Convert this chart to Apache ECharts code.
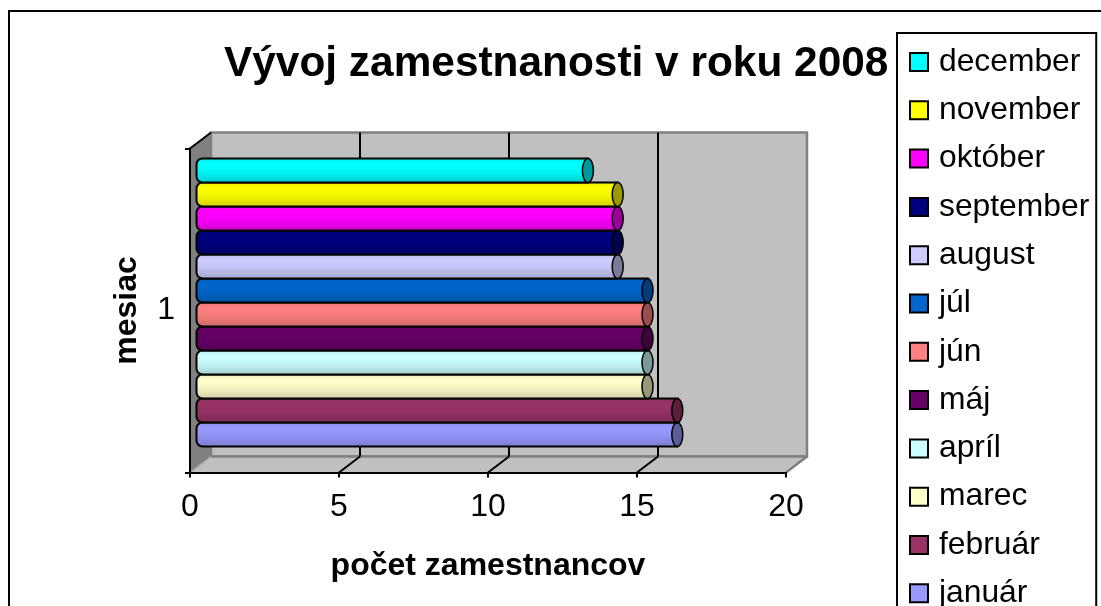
<!DOCTYPE html>
<html>
<head>
<meta charset="utf-8">
<script src="https://cdn.jsdelivr.net/npm/echarts@6/dist/echarts.min.js"></script>
<style>
html, body { margin: 0; padding: 0; background: #fff; }
#chart { width: 1101px; height: 606px; }
</style>
</head>
<body>
<div id="chart"></div>
<script>
var mesiace = ['január', 'február', 'marec', 'apríl', 'máj', 'jún', 'júl', 'august', 'september', 'október', 'november', 'december'];
var pocty = [16, 16, 15, 15, 15, 15, 15, 14, 14, 14, 14, 13];
var farby = ['#9999FF', '#993366', '#FFFFCC', '#CCFFFF', '#660066', '#FF8080', '#0066CC', '#CCCCFF', '#000080', '#FF00FF', '#FFFF00', '#00FFFF'];
var kategorie = ['1'];
var mriezka = [0, 5, 10, 15, 20];

var hlbkaX = 21, hlbkaY = 16;
var font = '"Liberation Sans", Arial, sans-serif';

function ztmav(hex, k) {
	var n = parseInt(hex.slice(1), 16);
	var r = Math.round((n >> 16 & 255) * k), g = Math.round((n >> 8 & 255) * k), b = Math.round((n & 255) * k);
	return 'rgb(' + r + ',' + g + ',' + b + ')';
}

// steny a podlaha, vsetko z osi
function renderSteny(params, api) {
	var stred = api.coord([0, '1']);
	var vyska = api.size([0, 1])[1];
	var x0 = stred[0], x1 = api.coord([20, '1'])[0];
	var hore = stred[1] - vyska / 2, dole = stred[1] + vyska / 2;
	var sivy = { stroke: '#808080', lineWidth: 2.5 };
	var deti = [
		{ type: 'polygon', shape: { points: [[x0 + hlbkaX, hore - hlbkaY], [x1 + hlbkaX, hore - hlbkaY], [x1 + hlbkaX, dole - hlbkaY], [x0 + hlbkaX, dole - hlbkaY]] }, style: { fill: '#C0C0C0', stroke: '#808080', lineWidth: 2.5 } },
		{ type: 'polygon', shape: { points: [[x0, dole], [x1, dole], [x1 + hlbkaX, dole - hlbkaY], [x0 + hlbkaX, dole - hlbkaY]] }, style: { fill: '#C0C0C0' } },
		{ type: 'line', shape: { x1: x0 + hlbkaX, y1: dole - hlbkaY, x2: x1 + hlbkaX, y2: dole - hlbkaY }, style: sivy },
		{ type: 'line', shape: { x1: x1, y1: dole, x2: x1 + hlbkaX, y2: dole - hlbkaY }, style: sivy },
		{ type: 'polygon', shape: { points: [[x0, hore], [x0 + hlbkaX, hore - hlbkaY], [x0 + hlbkaX, dole - hlbkaY], [x0, dole]] }, style: { fill: '#808080' } },
		{ type: 'line', shape: { x1: x0, y1: hore, x2: x0 + hlbkaX, y2: hore - hlbkaY }, style: { stroke: '#000', lineWidth: 2 } },
		{ type: 'line', shape: { x1: x0, y1: dole, x2: x0 + hlbkaX, y2: dole - hlbkaY }, style: { stroke: '#A8A8A8', lineWidth: 1.5 } }
	];
	mriezka.slice(1, -1).forEach(function (v) {
		var x = api.coord([v, '1'])[0];
		deti.push({ type: 'line', shape: { x1: x + hlbkaX, y1: hore - hlbkaY, x2: x + hlbkaX, y2: dole - hlbkaY }, style: { stroke: '#000', lineWidth: 2 } });
		deti.push({ type: 'line', shape: { x1: x, y1: dole, x2: x + hlbkaX, y2: dole - hlbkaY }, style: { stroke: '#000', lineWidth: 2 } });
	});
	return { type: 'group', children: deti };
}

function renderValec(i) {
	return function (params, api) {
		var stred = api.coord([0, '1']);
		var koniec = api.coord([api.value(0), '1']);
		var vyska = api.size([0, 1])[1];
		var h = vyska * 0.889 / mesiace.length;
		var y = stred[1] + mesiace.length * h / 2 - (i + 1) * h - hlbkaY / 2;
		var x0 = stred[0] + hlbkaX / 2 - 4;
		var x1 = koniec[0] + hlbkaX / 2;
		var c = farby[i];
		var rx = 5.5;
		return {
			type: 'group',
			children: [
				{
					type: 'rect',
					shape: { x: x0, y: y, width: x1 - x0, height: h, r: [6, 0, 0, 6] },
					style: {
						stroke: '#000', lineWidth: 2,
						fill: {
							type: 'linear', x: 0, y: 0, x2: 0, y2: 1,
							colorStops: [
								{ offset: 0, color: ztmav(c, 0.92) },
								{ offset: 0.25, color: c },
								{ offset: 0.55, color: ztmav(c, 0.96) },
								{ offset: 1, color: ztmav(c, 0.8) }
							]
						}
					}
				},
				{
					type: 'ellipse',
					shape: { cx: x1, cy: y + h / 2, rx: rx, ry: h / 2 },
					style: { fill: ztmav(c, 0.6), stroke: '#000', lineWidth: 1.5 }
				}
			]
		};
	};
}

var series = [{
	type: 'custom',
	silent: true,
	z: 1,
	renderItem: renderSteny,
	data: [[0, '1']],
	encode: { x: 0, y: 1 }
}];
mesiace.forEach(function (m, i) {
	series.push({
		name: m,
		type: 'custom',
		z: 3 + i,
		itemStyle: { color: farby[i], borderColor: '#000', borderWidth: 2 },
		renderItem: renderValec(i),
		data: [[pocty[i], '1']],
		encode: { x: 0, y: 1 }
	});
});

var myChart = echarts.init(document.getElementById('chart'));
myChart.setOption({
	animation: false,
	backgroundColor: '#fff',
	textStyle: { fontFamily: font },
	title: {
		text: 'Vývoj zamestnanosti v roku 2008',
		left: 224,
		top: 43,
		padding: 0,
		textStyle: { fontFamily: font, fontSize: 42.4, fontWeight: 'bold', color: '#000' }
	},
	legend: {
		orient: 'vertical',
		left: 897,
		top: 33,
		height: 700,
		padding: [13, 7, 10, 12],
		itemWidth: 18,
		itemHeight: 18,
		itemGap: 16.3,
		selectedMode: false,
		icon: 'rect',
		borderColor: '#000',
		borderWidth: 2,
		data: mesiace.slice().reverse(),
		textStyle: { fontFamily: font, fontSize: 31.8, lineHeight: 30, color: '#000', padding: [2, 0, 0, 6] }
	},
	grid: { left: 190, top: 148.5, width: 596, height: 324 },
	xAxis: {
		type: 'value',
		min: 0,
		max: 20,
		interval: 5,
		z: 10,
		name: 'počet zamestnancov',
		nameLocation: 'middle',
		nameGap: 78,
		nameTextStyle: { fontFamily: font, fontSize: 32, fontWeight: 'bold', color: '#000' },
		splitLine: { show: false },
		axisLine: { show: true, lineStyle: { color: '#000', width: 2 } },
		axisTick: { show: true, length: 5, lineStyle: { color: '#000', width: 2 } },
		axisLabel: { fontFamily: font, fontSize: 32, color: '#000', margin: 19 }
	},
	yAxis: {
		type: 'category',
		data: kategorie,
		z: 10,
		name: 'mesiac',
		nameLocation: 'middle',
		nameGap: 47,
		nameRotate: 90,
		nameTextStyle: { fontFamily: font, fontSize: 32, fontWeight: 'bold', color: '#000' },
		axisLine: { show: true, lineStyle: { color: '#000', width: 2 } },
		axisTick: { show: true, length: 5, lineStyle: { color: '#000', width: 2 } },
		axisLabel: { fontFamily: font, fontSize: 32, color: '#000', margin: 15, padding: [6, 0, 0, 0] }
	},
	graphic: [{
		type: 'rect',
		silent: true,
		z: 100,
		shape: { x: 9, y: 11, width: 1200, height: 700 },
		style: { fill: 'transparent', stroke: '#000', lineWidth: 2 }
	}],
	series: series
});
</script>
</body>
</html>
